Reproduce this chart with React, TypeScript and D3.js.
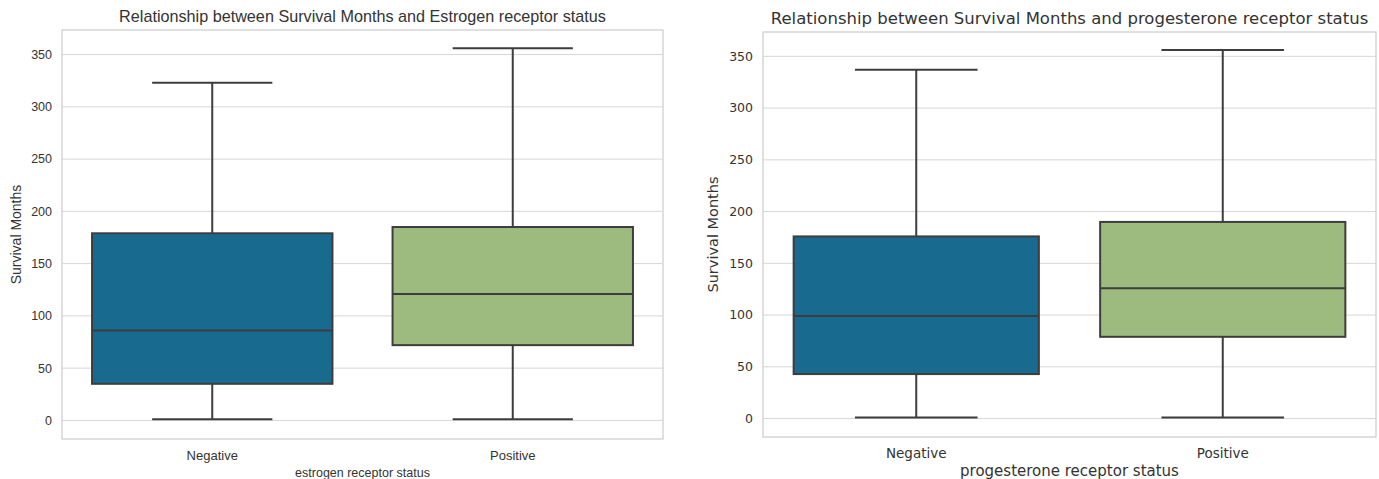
import React, { useEffect, useRef } from 'react';
import * as d3 from 'd3';

// categories and box stats [min, q1, median, q3, max]
const categories = ['Negative', 'Positive'];
const estrogenStats = [
  [1, 35, 86, 179, 323],
  [1, 72, 121, 185, 356],
];
const progesteroneStats = [
  [1, 43, 99, 176, 337],
  [1, 79, 126, 190, 356],
];
const yTicks = [0, 50, 100, 150, 200, 250, 300, 350];
const boxColors = ['#186a8e', '#9dbb7f'];

type PanelProps = {
  stats: number[][];
  title: string;
  xLabel: string;
  left: number;
  top: number;
  width: number;
  height: number;
  font: string;
  tickSize: number;
  xTickSize: number;
  titleSize: number;
  xLabelSize: number;
  yLabelSize: number;
  yLabelOffset: number;
};

const BoxPanel = (p: PanelProps) => {
  const ref = useRef<SVGGElement>(null);

  useEffect(() => {
    const g = d3.select(ref.current);
    g.selectAll('*').remove();
    g.attr('transform', `translate(${p.left}, ${p.top})`);

    const x = d3.scaleBand().domain(categories).range([0, p.width]).paddingInner(0).paddingOuter(0);
    const y = d3.scaleLinear().domain([-17.8, 373.5]).range([p.height, 0]);
    const line = '#3d3d3d';
    const txt = '#333';

    // grid
    g.append('g')
      .selectAll('line')
      .data(yTicks)
      .join('line')
      .attr('x1', 0)
      .attr('x2', p.width)
      .attr('y1', d => y(d))
      .attr('y2', d => y(d))
      .attr('stroke', '#d6d6d6')
      .attr('stroke-width', 1);

    // frame
    g.append('rect')
      .attr('x', 0)
      .attr('y', 0)
      .attr('width', p.width)
      .attr('height', p.height)
      .attr('fill', 'none')
      .attr('stroke', '#d0d0d0')
      .attr('stroke-width', 1.3);

    // y tick labels
    g.append('g')
      .selectAll('text')
      .data(yTicks)
      .join('text')
      .attr('x', -10)
      .attr('y', d => y(d))
      .attr('dy', '0.35em')
      .attr('text-anchor', 'end')
      .attr('font-family', p.font)
      .attr('font-size', p.tickSize)
      .attr('fill', txt)
      .text(d => d);

    // boxes
    const boxes = g.append('g')
      .selectAll('g')
      .data(p.stats)
      .join('g');

    const bw = x.bandwidth() * 0.8;
    const cx = (i: number) => (x(categories[i]) as number) + x.bandwidth() / 2;

    boxes.each(function (s, i) {
      const b = d3.select(this);
      const c = cx(i);
      // whiskers
      b.append('line').attr('x1', c).attr('x2', c).attr('y1', y(s[3])).attr('y2', y(s[4]))
        .attr('stroke', line).attr('stroke-width', 2);
      b.append('line').attr('x1', c).attr('x2', c).attr('y1', y(s[1])).attr('y2', y(s[0]))
        .attr('stroke', line).attr('stroke-width', 2);
      // caps
      [s[0], s[4]].forEach(v => {
        b.append('line').attr('x1', c - bw / 4).attr('x2', c + bw / 4).attr('y1', y(v)).attr('y2', y(v))
          .attr('stroke', line).attr('stroke-width', 2);
      });
      b.append('rect')
        .attr('x', c - bw / 2)
        .attr('y', y(s[3]))
        .attr('width', bw)
        .attr('height', y(s[1]) - y(s[3]))
        .attr('fill', boxColors[i])
        .attr('stroke', line)
        .attr('stroke-width', 2);
      b.append('line').attr('x1', c - bw / 2).attr('x2', c + bw / 2).attr('y1', y(s[2])).attr('y2', y(s[2]))
        .attr('stroke', line).attr('stroke-width', 2);
    });

    // x tick labels
    g.append('g')
      .selectAll('text')
      .data(categories)
      .join('text')
      .attr('x', (d, i) => cx(i))
      .attr('y', p.height + 16)
      .attr('dy', '0.35em')
      .attr('text-anchor', 'middle')
      .attr('font-family', p.font)
      .attr('font-size', p.xTickSize)
      .attr('fill', txt)
      .text(d => d);

    // x label
    g.append('text')
      .attr('x', p.width / 2)
      .attr('y', p.height + 33.5)
      .attr('dy', '0.35em')
      .attr('text-anchor', 'middle')
      .attr('font-family', p.font)
      .attr('font-size', p.xLabelSize)
      .attr('fill', txt)
      .text(p.xLabel);

    // y label
    g.append('text')
      .attr('transform', 'rotate(-90)')
      .attr('x', -p.height / 2)
      .attr('y', p.yLabelOffset)
      .attr('dy', '0.35em')
      .attr('text-anchor', 'middle')
      .attr('font-family', p.font)
      .attr('font-size', p.yLabelSize)
      .attr('fill', txt)
      .text('Survival Months');

    // title
    g.append('text')
      .attr('x', p.width / 2)
      .attr('y', -13.5)
      .attr('dy', '0.35em')
      .attr('text-anchor', 'middle')
      .attr('font-family', p.font)
      .attr('font-size', p.titleSize)
      .attr('fill', txt)
      .text(p.title);
  }, [p]);

  return <g ref={ref}></g>;
};

const App = () => {
  return (
    <svg width={1379} height={479} style={{ position: 'absolute', left: 0, top: 0, background: '#fff' }}>
      <BoxPanel
        stats={estrogenStats}
        title="Relationship between Survival Months and Estrogen receptor status"
        xLabel="estrogen receptor status"
        left={62}
        top={30}
        width={601}
        height={409}
        font="'Liberation Sans', Arial, sans-serif"
        tickSize={12.5}
        xTickSize={13}
        titleSize={16.2}
        xLabelSize={12.5}
        yLabelSize={14}
        yLabelOffset={-46}
      />
      <BoxPanel
        stats={progesteroneStats}
        title="Relationship between Survival Months and progesterone receptor status"
        xLabel="progesterone receptor status"
        left={763}
        top={32}
        width={613}
        height={405}
        font="'DejaVu Sans', sans-serif"
        tickSize={12.5}
        xTickSize={13.5}
        titleSize={16.5}
        xLabelSize={15}
        yLabelSize={14.5}
        yLabelOffset={-50}
      />
    </svg>
  );
};

export default App;
